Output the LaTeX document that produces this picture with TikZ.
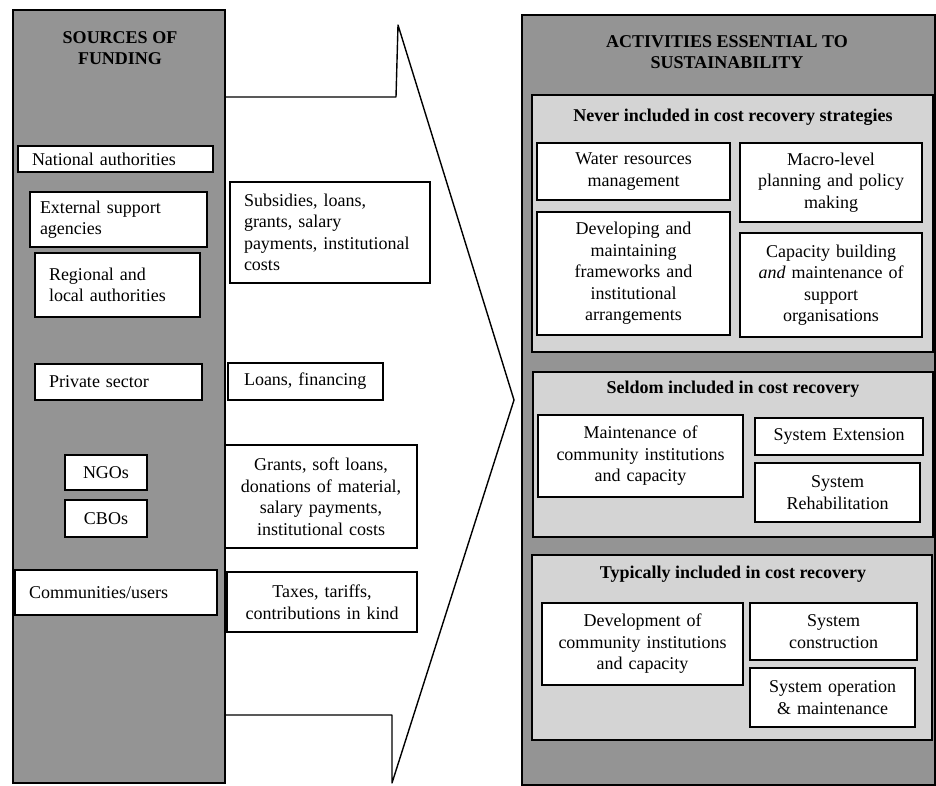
\documentclass[tikz,border=0pt]{standalone}
\usepackage{fontspec}
\setmainfont{Liberation Serif}

\begin{document}
\begin{tikzpicture}[x=1pt, y=-1pt,
    panel/.style={draw, line width=1.3pt, fill=black!42},
    subpanel/.style={draw, line width=1.1pt, fill=black!17},
    box/.style={draw, line width=1.1pt, fill=white, inner ysep=2pt,
        font=\fontsize{18}{21.5}\selectfont},
    lbox/.style={box, align=left, inner xsep=14pt},
    cbox/.style={box, align=center, inner xsep=3pt},
    heading/.style={align=center, font=\bfseries\fontsize{18}{21}\selectfont}]
    \useasboundingbox (0,0) rectangle (936,785);

    % sources of funding
    \draw[panel] (13,10) rectangle (225,783);
    \node[heading] (srctitle) at (120,48.5) {SOURCES OF\\FUNDING};
    \node[lbox, text width=167, minimum height=26] (natl) at (115.5,159) {National authorities};
    \node[lbox, inner xsep=10pt, text width=157, minimum height=55] (esa) at (118.5,219.5) {External support\\agencies};
    \node[lbox, text width=137, minimum height=64] (regional) at (117.5,285) {Regional and\\local authorities};
    \node[lbox, text width=139, minimum height=36] (private) at (118.5,382) {Private sector};
    \node[cbox, text width=76, minimum height=35] (ngo) at (106,472.5) {NGOs};
    \node[cbox, text width=76, minimum height=37] (cbo) at (106,518.5) {CBOs};
    \node[lbox, text width=174, minimum height=45] (users) at (116,592.5) {Communities/users};

    % big arrow
    \draw[line width=1.4pt, line join=round]
        (225,97) -- (396,97) -- (398,25) -- (514,400) -- (392,783) -- (392,715) -- (225,715);

    \node[lbox, text width=172, minimum height=101] (subsidies) at (330,232.5) {Subsidies, loans,\\grants, salary\\payments, institutional\\costs};
    \node[lbox, inner xsep=16pt, text width=123, minimum height=37] (loans) at (305.5,381.5) {Loans, financing};
    \node[cbox, text width=186, minimum height=103] (grants) at (321,496.5) {Grants, soft loans,\\donations of material,\\salary payments,\\institutional costs};
    \node[cbox, text width=184, minimum height=60] (taxes) at (322,602) {Taxes, tariffs,\\contributions in kind};

    % activities
    \draw[panel] (522,15) rectangle (935,785);
    \node[heading] (acttitle) at (727,52.5) {ACTIVITIES ESSENTIAL TO\\SUSTAINABILITY};

    \draw[subpanel] (532,95) rectangle (933,352);
    \node[heading] (nevertitle) at (733,117) {Never included in cost recovery strategies};
    \node[cbox, text width=187, minimum height=57] (water) at (633.5,171.5) {Water resources\\management};
    \node[cbox, text width=176, minimum height=79] (macro) at (831,182.5) {Macro-level\\planning and policy\\making};
    \node[cbox, text width=187, minimum height=123] (frame) at (633.5,273.5) {Developing and\\maintaining\\frameworks and\\institutional\\arrangements};
    \node[cbox, text width=176, minimum height=104] (capacity) at (831,285) {Capacity building\\\emph{and} maintenance of\\support\\organisations};

    \draw[subpanel] (533,372) rectangle (933,537);
    \node[heading] (seldomtitle) at (733,389) {Seldom included in cost recovery};
    \node[cbox, text width=199, minimum height=82] (maint) at (640.5,456) {Maintenance of\\community institutions\\and capacity};
    \node[cbox, text width=162, minimum height=37] (extension) at (839,436.5) {System Extension};
    \node[cbox, text width=159, minimum height=59] (rehab) at (837.5,492.5) {System\\Rehabilitation};

    \draw[subpanel] (532,555) rectangle (932,740);
    \node[heading] (typtitle) at (733,574) {Typically included in cost recovery};
    \node[cbox, text width=195, minimum height=82] (develop) at (642.5,644) {Development of\\community institutions\\and capacity};
    \node[cbox, text width=161, minimum height=57] (construct) at (833.5,631.5) {System\\construction};
    \node[cbox, text width=159, minimum height=59] (operate) at (832.5,697.5) {System operation\\\& maintenance};
\end{tikzpicture}
\end{document}
